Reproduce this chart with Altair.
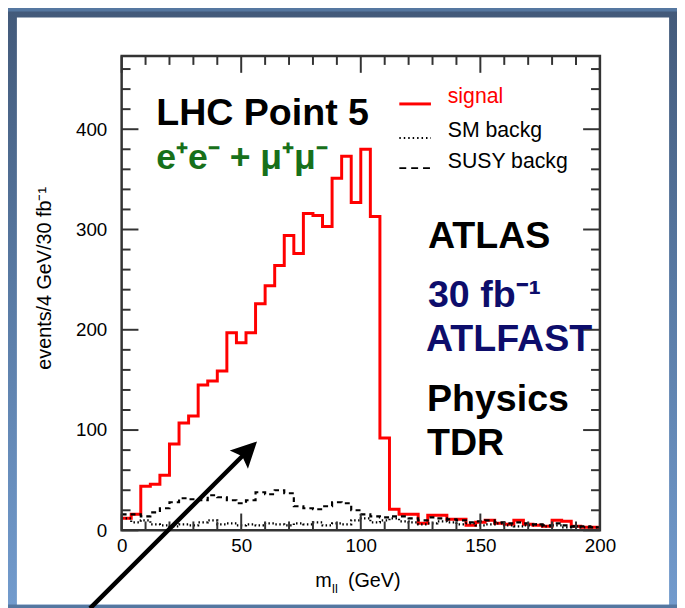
import altair as alt
import pandas as pd

# ---------------- data ----------------
BIN_WIDTH = 4  # GeV
signal = [12, 16, 44, 46, 55, 86, 107, 114, 145, 149,
          159, 197, 187, 197, 226, 244, 264, 294, 276, 316,
          314, 303, 351, 373, 327, 380, 313, 92, 21, 16,
          16, 7, 15, 15, 11, 11, 5, 8, 10, 7,
          6, 10, 6, 5, 4, 10, 9, 4, 3, 3]
susy_backg = [16, 16, 14, 18, 22, 28, 32, 31, 30, 35,
              33, 30, 27, 30, 38, 36, 40, 37, 24, 22,
              21, 24, 28, 27, 20, 16, 14, 13, 14, 14,
              12, 10, 13, 12, 11, 10, 8, 9, 10, 8,
              7, 8, 7, 6, 5, 7, 5, 4, 4, 3]
sm_backg = [12, 8, 10, 6, 5, 4, 6, 5, 8, 10,
            6, 7, 5, 6, 5, 7, 6, 5, 7, 6,
            8, 5, 7, 6, 10, 12, 8, 10, 12, 9,
            8, 6, 7, 9, 8, 6, 7, 5, 6, 7,
            5, 4, 5, 6, 4, 5, 3, 4, 3, 3]

x_major = [0, 50, 100, 150, 200]
x_minor = [10, 20, 30, 40, 60, 70, 80, 90, 110, 120, 130, 140, 160, 170, 180, 190]
y_major = [0, 100, 200, 300, 400]
y_minor = [20, 40, 60, 80, 120, 140, 160, 180, 220, 240, 260, 280,
           320, 340, 360, 380, 420, 440, 460]
x_domain = [0, 200]
y_domain = [0, 473]

legend_labels = ["signal", "SM backg", "SUSY backg"]
annotations = ["LHC Point 5", "e⁺e⁻ + μ⁺μ⁻", "ATLAS", "30 fb⁻¹", "ATLFAST", "Physics", "TDR"]
y_title = "events/4 GeV/30 fb⁻¹"
x_title_parts = ["m", "ll", "(GeV)"]

# ---------------- layout ----------------
W, H = 484, 480
FONT = "Liberation Sans"

xs = alt.Scale(domain=x_domain, nice=False, zero=False)
ys = alt.Scale(domain=y_domain, nice=False, zero=True)
xaxis = alt.Axis(values=x_major, ticks=False, domain=False, grid=False, title=None,
                 labelFont=FONT, labelFontSize=19, labelColor="#000", labelPadding=6,
                 labelFlush=False, labelOverlap=False, format="d", zindex=1)
yaxis = alt.Axis(values=y_major, ticks=False, domain=False, grid=False, title=None,
                 labelFont=FONT, labelFontSize=19, labelColor="#000", labelPadding=15,
                 labelOverlap=False, format="d", zindex=1)
X = alt.X("m:Q", scale=xs, axis=xaxis)
Y = alt.Y("v:Q", scale=ys, axis=yaxis)

one = pd.DataFrame({"k": [0]})


def hist_df(vals):
    m = [i * BIN_WIDTH for i in range(len(vals))] + [len(vals) * BIN_WIDTH]
    v = list(vals) + [vals[-1]]
    return pd.DataFrame({"m": m, "v": v})


def txt(s, x, y, size, color="black", bold=True, angle=0, align="left", baseline="alphabetic"):
    return alt.Chart(pd.DataFrame({"t": [s]})).mark_text(
        align=align, baseline=baseline, font=FONT, fontSize=size,
        fontWeight="bold" if bold else "normal", color=color, angle=angle
    ).encode(text="t:N", x=alt.value(x), y=alt.value(y))


# background (slide) and white panel
bg = alt.Chart(one).mark_rect(
    fill=alt.Gradient(gradient="linear",
                      stops=[alt.GradientStop(color="#435a7a", offset=0),
                             alt.GradientStop(color="#5a7ca6", offset=0.5),
                             alt.GradientStop(color="#729bcd", offset=1)],
                      x1=0, x2=0, y1=0, y2=1)
).encode(x=alt.value(-115), x2=alt.value(562), y=alt.value(-45), y2=alt.value(555))
panel = alt.Chart(one).mark_rect(fill="white").encode(
    x=alt.value(-106), x2=alt.value(554), y=alt.value(-39), y2=alt.value(555))

# histograms
sig = alt.Chart(hist_df(signal)).mark_line(
    interpolate="step-after", color="#ff0000", strokeWidth=3).encode(x=X, y=Y)
susy = alt.Chart(hist_df(susy_backg)).mark_line(
    interpolate="step-after", color="black", strokeWidth=2.2, strokeDash=[5, 4]).encode(x=X, y=Y)
sm = alt.Chart(hist_df(sm_backg)).mark_line(
    interpolate="step-after", color="black", strokeWidth=2.2, strokeDash=[1.5, 2.5]).encode(x=X, y=Y)

# inward ticks
TC = "#333"
xmaj = pd.DataFrame({"m": x_major})
xmin = pd.DataFrame({"m": x_minor})
ymaj = pd.DataFrame({"v": y_major})
ymin = pd.DataFrame({"v": y_minor})
ticks = [
    alt.Chart(xmaj).mark_rule(color=TC, strokeWidth=2).encode(x=X, y=alt.value(H), y2=alt.value(H - 17)),
    alt.Chart(xmaj).mark_rule(color=TC, strokeWidth=2).encode(x=X, y=alt.value(0), y2=alt.value(17)),
    alt.Chart(xmin).mark_rule(color=TC, strokeWidth=2).encode(x=X, y=alt.value(H), y2=alt.value(H - 9)),
    alt.Chart(xmin).mark_rule(color=TC, strokeWidth=2).encode(x=X, y=alt.value(0), y2=alt.value(9)),
    alt.Chart(ymaj).mark_rule(color=TC, strokeWidth=2).encode(y=Y, x=alt.value(0), x2=alt.value(17)),
    alt.Chart(ymaj).mark_rule(color=TC, strokeWidth=2).encode(y=Y, x=alt.value(W), x2=alt.value(W - 17)),
    alt.Chart(ymin).mark_rule(color=TC, strokeWidth=2).encode(y=Y, x=alt.value(0), x2=alt.value(9)),
    alt.Chart(ymin).mark_rule(color=TC, strokeWidth=2).encode(y=Y, x=alt.value(W), x2=alt.value(W - 9)),
]
frame = alt.Chart(one).mark_rect(filled=False, color=TC, strokeWidth=2.5).encode(
    x=alt.value(0), x2=alt.value(W), y=alt.value(0), y2=alt.value(H))

# annotations
GREEN = "#17701a"
NAVY = "#0d0d6b"
texts = [
    txt(annotations[0], 35, 70, 38),
    txt(annotations[1], 35, 114, 36, color=GREEN),
    txt(annotations[2], 310, 194, 38),
    txt(annotations[3], 310, 254, 38, color=NAVY),
    txt(annotations[4], 308, 299, 38, color=NAVY),
    txt(annotations[5], 309, 359, 38),
    txt(annotations[6], 309, 404, 38),
    # axis titles
    txt(y_title, -77, 225, 20, bold=False, angle=270, align="center", baseline="middle"),
    txt(x_title_parts[0], 196, 537, 20, bold=False),
    txt(x_title_parts[1], 213, 543, 13, bold=False),
    txt(x_title_parts[2], 229, 537, 20, bold=False),
]

# legend
legend = [
    alt.Chart(one).mark_rule(color="#ff0000", strokeWidth=3).encode(
        x=alt.value(281), x2=alt.value(313), y=alt.value(48.5)),
    alt.Chart(one).mark_rule(color="black", strokeWidth=2, strokeDash=[1.5, 3]).encode(
        x=alt.value(281), x2=alt.value(313), y=alt.value(83)),
    alt.Chart(one).mark_rule(color="black", strokeWidth=1.8, strokeDash=[7, 5]).encode(
        x=alt.value(281), x2=alt.value(313), y=alt.value(113.5)),
    txt(legend_labels[0], 330, 48, 21.5, color="#ff0000", bold=False),
    txt(legend_labels[1], 330, 82, 21.5, bold=False),
    txt(legend_labels[2], 330, 113, 21.5, bold=False),
]

# arrow
arrow = [
    alt.Chart(one).mark_rule(color="black", strokeWidth=4.5).encode(
        x=alt.value(-32), y=alt.value(559), x2=alt.value(124), y2=alt.value(403)),
    alt.Chart(one).mark_point(shape="M0,-1L0.8,0.6L0,0.3L-0.8,0.6Z", size=1056, angle=45,
                              filled=True, color="black", opacity=1, strokeWidth=0).encode(
        x=alt.value(125.5), y=alt.value(401.5)),
]

chart = alt.layer(bg, panel, sig, susy, sm, *ticks, frame, *texts, *legend, *arrow).properties(
    width=W, height=H,
    autosize=alt.AutoSizeParams(type="none"),
    padding={"left": 115, "top": 45, "right": 78, "bottom": 75},
    background="#5577a0",
).configure_view(strokeWidth=0)

chart.save("out.html", embed_options={"renderer": "svg", "actions": False})
